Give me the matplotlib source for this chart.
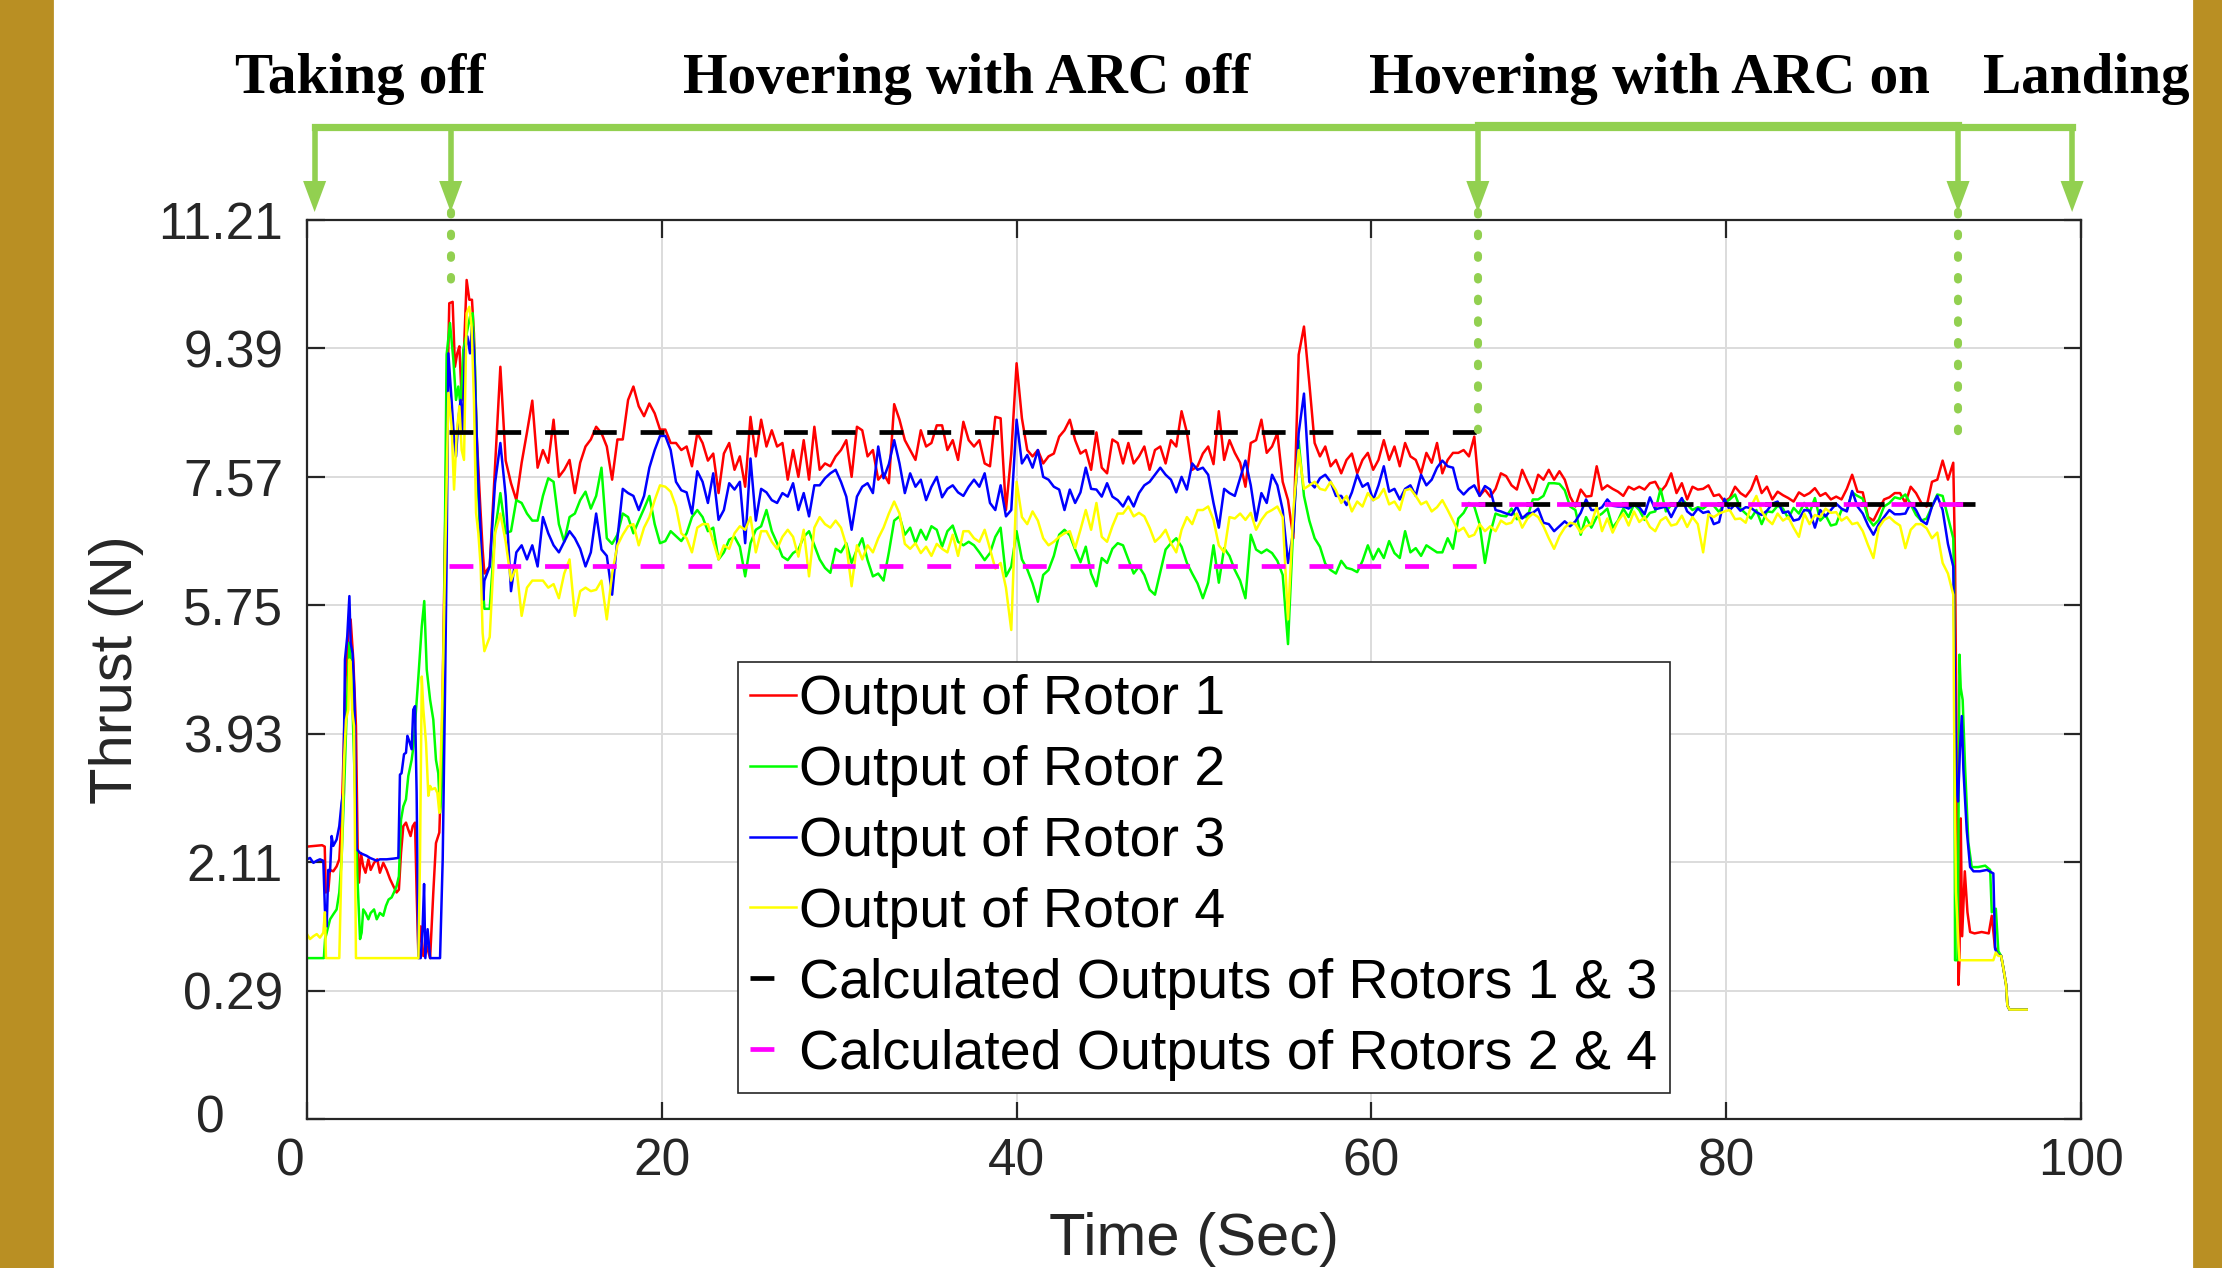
import numpy as np
import matplotlib.pyplot as plt
from matplotlib.patches import Rectangle, Polygon

plt.rcParams['font.family'] = ['Liberation Sans', 'DejaVu Sans']
plt.rcParams['lines.scale_dashes'] = False

# ---------------- data ----------------
# take-off part (irregular samples)
r1_take_t = [0, 0.85, 1.0, 1.06, 1.2, 1.3, 1.48, 1.67, 1.82, 1.95, 2.05, 2.18, 2.33, 2.46, 2.61, 2.76, 2.86, 2.93, 3.04, 3.17,
             3.3, 3.46, 3.59, 3.78, 3.96, 4.11, 4.3, 4.49, 4.68, 4.87, 5.05, 5.18, 5.3, 5.43, 5.58, 5.71, 5.84, 5.96, 6.09, 6.18,
             6.28, 6.41, 6.56, 6.75, 6.94, 7.12, 7.27, 7.46, 7.59, 7.69, 7.87, 8.02, 8.21, 8.34, 8.47, 8.59, 8.72, 8.85, 9.0, 9.15,
             9.3, 9.41, 9.56, 9.75, 9.9]
r1_take_v = [2.33, 2.35, 2.33, 1.68, 1.7, 2.0, 1.98, 2.05, 2.15, 2.71, 3.56, 4.74, 5.36, 5.55, 4.98, 4.04, 2.24, 1.82, 2.24, 2.05,
             1.96, 2.15, 2.0, 2.1, 2.15, 1.96, 2.1, 2.0, 1.87, 1.77, 1.68, 1.72, 2.24, 2.62, 2.67, 2.57, 2.48, 2.62, 2.67, 1.68,
             0.78, 1.2, 0.78, 0.92, 0.75, 1.68, 2.38, 2.53, 3.56, 5.26, 8.19, 10.03, 10.05, 9.13, 9.32, 9.42, 8.66, 9.37, 10.36, 10.08,
             10.08, 9.6, 8.19, 7.24, 6.54]

r2_take_t = [0, 0.95, 1.02, 1.11, 1.3, 1.48, 1.67, 1.82, 1.95, 2.09, 2.24, 2.39, 2.46, 2.57, 2.71, 2.84, 2.99, 3.08, 3.17, 3.3,
             3.46, 3.59, 3.78, 3.93, 4.11, 4.3, 4.45, 4.6, 4.77, 4.9, 5.05, 5.18, 5.3, 5.43, 5.58, 5.71, 5.9, 6.0, 6.28, 6.47,
             6.61, 6.75, 6.94, 7.12, 7.27, 7.4, 7.5, 7.6, 7.69, 7.8, 7.87, 8.06, 8.25, 8.4, 8.53, 8.66, 8.81, 9.0, 9.19, 9.34,
             9.47, 9.6, 9.75, 9.9]
r2_take_v = [0.75, 0.75, 1.02, 1.11, 1.3, 1.37, 1.44, 1.68, 2.15, 3.1, 4.27, 5.22, 4.98, 4.27, 3.1, 1.91, 1.02, 1.11, 1.44, 1.39,
             1.3, 1.39, 1.44, 1.3, 1.39, 1.35, 1.49, 1.58, 1.61, 1.68, 1.77, 1.91, 2.71, 2.9, 3.0, 3.33, 3.56, 3.75, 4.74, 5.45,
             5.81, 4.84, 4.41, 4.13, 3.56, 3.37, 2.81, 3.2, 4.5, 7.5, 9.3, 9.75, 9.23, 8.66, 8.85, 8.57, 9.37, 9.6, 9.84, 9.89,
             9.13, 7.72, 6.77, 6.07]

r3_take_t = [0, 0.17, 0.36, 0.55, 0.73, 0.92, 1.01, 1.11, 1.2, 1.3, 1.39, 1.48, 1.67, 1.82, 1.95, 2.05, 2.14, 2.27, 2.39, 2.46,
             2.57, 2.67, 2.8, 2.89, 2.99, 3.17, 3.36, 3.55, 3.74, 3.93, 4.11, 4.49, 4.87, 5.15, 5.24, 5.33, 5.47, 5.58, 5.66, 5.77,
             5.9, 5.99, 6.09, 6.18, 6.28, 6.41, 6.52, 6.6, 6.67, 6.8, 6.94, 7.5, 7.65, 7.78, 7.87, 7.97, 8.15, 8.29, 8.4, 8.53,
             8.66, 8.77, 8.91, 9.04, 9.19, 9.3, 9.41, 9.53, 9.66, 9.79, 9.94]
r3_take_v = [2.15, 2.17, 2.1, 2.13, 2.15, 2.13, 1.44, 1.2, 2.0, 1.98, 2.48, 2.34, 2.43, 2.62, 2.95, 3.1, 4.98, 5.31, 5.88, 5.22,
             5.07, 4.51, 2.29, 2.27, 2.24, 2.22, 2.2, 2.17, 2.15, 2.13, 2.15, 2.15, 2.16, 2.17, 3.35, 3.37, 3.64, 3.66, 3.9, 3.82,
             3.71, 4.27, 4.32, 3.1, 0.75, 0.75, 1.2, 1.8, 0.75, 1.16, 0.75, 0.75, 2.15, 4.51, 6.4, 9.32, 8.66, 8.09, 7.86, 8.38,
             8.66, 8.19, 9.37, 9.56, 9.32, 9.7, 9.37, 8.43, 7.48, 6.77, 5.83]

r4_take_t = [0, 0.17, 0.36, 0.55, 0.73, 0.92, 1.01, 1.07, 1.82, 1.95, 2.09, 2.2, 2.33, 2.39, 2.46, 2.54, 2.65, 2.76, 6.28, 6.37,
             6.47, 6.56, 6.71, 6.84, 6.94, 7.03, 7.22, 7.35, 7.46, 7.59, 7.68, 7.97, 8.15, 8.29, 8.44, 8.59, 8.72, 8.85, 9.0, 9.15,
             9.28, 9.41, 9.53, 9.66, 9.79, 9.9]
r4_take_v = [1.09, 1.02, 1.06, 1.09, 1.04, 1.11, 1.4, 0.75, 0.75, 2.15, 3.56, 4.13, 4.27, 4.98, 4.95, 4.27, 4.04, 0.75, 0.75, 2.15,
             4.74, 4.27, 3.8, 3.05, 3.19, 3.14, 3.16, 3.09, 2.81, 4.04, 4.98, 8.76, 8.28, 7.39, 8.19, 8.57, 7.95, 7.81, 9.89, 9.98,
             9.7, 8.66, 7.06, 6.77, 6.3, 5.36]

# hover part, sampled every 0.3 s; four stretches starting at these times
hover_start = [10.0, 22.3, 50.5, 66.1]
hover_dt = 0.3

r1_hover = [
    [6.2, 6.3, 7.72, 9.13, 7.8, 7.48, 7.24, 7.77, 8.2, 8.65, 7.7, 7.95, 7.77, 8.38, 7.57, 7.67, 7.81, 7.34, 7.77, 8.0,
     8.1, 8.28, 8.19, 8.0, 7.53, 8.1, 8.1, 8.66, 8.85, 8.57, 8.43, 8.61, 8.47, 8.24, 8.24, 8.05, 8.05, 7.95, 8.0, 7.72,
     8.19],
    [8.05, 7.8, 7.9, 7.34, 7.9, 8.05, 7.67, 7.86, 7.43, 8.42, 7.86, 8.38, 8.0, 8.23, 8.0, 8.05, 7.53, 7.95, 7.57, 8.09,
     7.53, 8.28, 7.67, 7.76, 7.72, 7.86, 7.95, 8.09, 7.57, 8.28, 8.23, 7.86, 7.95, 7.53, 7.62, 7.48, 8.6, 8.38, 8.09, 7.95,
     7.81, 8.23, 8.0, 8.05, 8.3, 8.3, 7.95, 8.09, 7.81, 8.35, 8.09, 8.0, 8.09, 7.76, 7.72, 8.42, 8.4, 7.1, 7.9, 9.18,
     8.4, 7.95, 7.86, 7.95, 7.76, 7.86, 7.9, 8.14, 8.23, 8.38, 8.09, 7.9, 7.95, 7.67, 8.2, 7.7, 7.62, 8.1, 8.05, 7.76,
     8.05, 7.76, 7.86, 8.0, 7.67, 7.95, 8.0, 7.76, 8.09, 8.0, 8.5, 8.2, 7.67, 7.72],
    [7.9, 8.0, 7.75, 8.5, 7.81, 8.09, 7.91, 7.77, 7.43, 8.05, 8.09, 8.38, 7.91, 8.0, 8.19, 7.5, 7.24, 6.7, 9.3, 9.7,
     8.9, 8.05, 7.86, 8.0, 7.72, 7.81, 7.62, 7.81, 7.9, 7.62, 7.81, 7.91, 7.67, 7.81, 8.09, 7.81, 8.0, 7.72, 8.05, 7.86,
     7.81, 7.62, 7.91, 7.77, 8.05, 7.62, 7.81, 7.91, 7.91, 7.95, 7.86, 8.14],
    [7.3, 7.39, 7.29, 7.4, 7.62, 7.58, 7.45, 7.39, 7.67, 7.5, 7.34, 7.6, 7.53, 7.67, 7.53, 7.65, 7.53, 7.29, 7.15, 7.39,
     7.29, 7.3, 7.72, 7.39, 7.45, 7.4, 7.36, 7.3, 7.43, 7.39, 7.43, 7.39, 7.48, 7.5, 7.36, 7.45, 7.62, 7.34, 7.48, 7.25,
     7.43, 7.39, 7.4, 7.45, 7.3, 7.32, 7.22, 7.27, 7.43, 7.34, 7.29, 7.39, 7.58, 7.34, 7.43, 7.25, 7.36, 7.31, 7.27, 7.22,
     7.35, 7.3, 7.34, 7.41, 7.3, 7.34, 7.25, 7.29, 7.25, 7.4, 7.6, 7.36, 7.35, 7.0, 6.95, 7.1, 7.25, 7.28, 7.34, 7.34,
     7.2, 7.43, 7.34, 7.2, 7.15, 7.5, 7.53, 7.8, 7.53, 7.77],
]
r2_hover = [
    [5.7, 5.7, 6.8, 7.34, 6.77, 6.8, 7.24, 7.2, 7.05, 6.95, 6.95, 7.3, 7.55, 7.5, 6.9, 6.65, 7.0, 7.05, 7.24, 7.36,
     7.12, 7.3, 7.7, 6.7, 6.62, 6.75, 7.05, 7.0, 6.77, 6.95, 7.12, 7.3, 6.9, 6.63, 6.66, 6.8, 6.73, 6.66, 6.77, 7.0,
     7.1],
    [7.0, 6.8, 6.85, 6.4, 6.5, 6.68, 6.72, 6.58, 6.16, 6.63, 6.82, 6.87, 7.1, 6.8, 6.63, 6.44, 6.39, 6.49, 6.54, 6.72,
     6.8, 6.6, 6.4, 6.28, 6.21, 6.55, 6.5, 6.63, 6.35, 6.54, 6.7, 6.39, 6.16, 6.2, 6.1, 6.5, 6.95, 7.01, 6.75, 6.85,
     6.63, 6.82, 6.68, 6.87, 6.82, 6.58, 6.8, 6.88, 6.65, 6.6, 6.65, 6.6, 6.5, 6.39, 6.49, 6.72, 6.85, 6.16, 6.3, 6.8,
     6.4, 6.26, 6.06, 5.8, 6.18, 6.25, 6.45, 6.75, 6.82, 6.74, 6.54, 6.36, 6.58, 6.2, 6.02, 6.42, 6.35, 6.55, 6.63, 6.6,
     6.4, 6.2, 6.3, 6.18, 5.97, 5.9, 6.22, 6.54, 6.63, 6.7, 6.58, 6.35, 6.2, 6.06],
    [5.85, 6.07, 6.6, 6.07, 6.56, 6.45, 6.25, 6.1, 5.85, 6.75, 6.54, 6.49, 6.54, 6.49, 6.38, 6.18, 5.2, 6.9, 8.08, 7.3,
     6.95, 6.7, 6.58, 6.34, 6.25, 6.2, 6.38, 6.28, 6.26, 6.22, 6.38, 6.6, 6.4, 6.55, 6.42, 6.66, 6.49, 6.42, 6.8, 6.5,
     6.56, 6.45, 6.6, 6.55, 6.5, 6.5, 6.7, 6.55, 6.98, 7.06, 7.2, 7.15],
    [6.9, 6.35, 6.77, 7.05, 7.02, 7.01, 7.12, 6.97, 7.0, 7.0, 7.25, 7.25, 7.3, 7.48, 7.48, 7.47, 7.38, 7.15, 7.1, 6.75,
     7.0, 6.85, 7.0, 7.05, 7.12, 6.85, 6.95, 7.12, 7.0, 7.18, 7.1, 6.96, 7.06, 7.08, 7.4, 7.08, 7.17, 7.15, 7.25, 7.18,
     7.1, 7.14, 7.12, 7.18, 7.16, 7.07, 7.2, 7.25, 7.32, 7.12, 7.05, 6.98, 7.1, 6.9, 7.08, 7.07, 7.16, 7.12, 6.98, 7.13,
     7.05, 7.2, 7.06, 7.27, 6.95, 7.03, 6.88, 6.9, 7.1, 7.1, 7.35, 7.3, 7.26, 6.98, 6.88, 6.96, 7.15, 7.2, 7.28, 7.26,
     7.32, 7.18, 7.03, 6.95, 6.98, 7.15, 7.32, 7.3, 7.0, 6.7],
]
r3_hover = [
    [6.1, 6.3, 7.48, 8.05, 7.3, 5.95, 6.5, 6.6, 6.4, 6.6, 6.3, 7.0, 6.77, 6.6, 6.5, 6.65, 6.8, 6.7, 6.55, 6.3,
     6.5, 7.05, 6.54, 6.45, 5.9, 6.7, 7.4, 7.34, 7.3, 7.1, 7.3, 7.7, 7.95, 8.15, 8.15, 7.95, 7.5, 7.38, 7.35, 7.05,
     7.65],
    [7.5, 7.2, 7.62, 6.96, 7.1, 7.48, 7.39, 7.5, 6.63, 7.83, 6.95, 7.4, 7.35, 7.24, 7.2, 7.34, 7.29, 7.48, 7.1, 7.34,
     7.01, 7.45, 7.45, 7.55, 7.62, 7.67, 7.5, 7.29, 6.82, 7.29, 7.43, 7.48, 7.34, 8.0, 7.55, 7.75, 8.09, 7.76, 7.34, 7.62,
     7.43, 7.53, 7.24, 7.43, 7.57, 7.28, 7.4, 7.45, 7.35, 7.3, 7.43, 7.53, 7.43, 7.62, 7.2, 7.1, 7.45, 7.01, 7.1, 8.38,
     7.76, 7.88, 7.7, 7.95, 7.57, 7.53, 7.43, 7.39, 7.1, 7.39, 7.2, 7.35, 7.7, 7.4, 7.39, 7.29, 7.48, 7.29, 7.24, 7.15,
     7.29, 7.15, 7.34, 7.45, 7.5, 7.6, 7.7, 7.6, 7.53, 7.35, 7.57, 7.39, 7.76, 7.67],
    [7.7, 7.6, 7.2, 6.85, 7.4, 7.34, 7.3, 7.55, 7.8, 7.45, 6.95, 7.34, 7.2, 7.6, 7.45, 7.1, 6.35, 6.8, 8.19, 8.75,
     7.5, 7.42, 7.55, 7.6, 7.5, 7.3, 7.3, 7.17, 7.35, 7.6, 7.43, 7.48, 7.24, 7.45, 7.72, 7.36, 7.4, 7.25, 7.4, 7.45,
     7.3, 7.6, 7.45, 7.53, 7.7, 7.8, 7.72, 7.7, 7.4, 7.32, 7.4, 7.45],
    [7.3, 7.44, 7.39, 7.1, 7.08, 7.05, 7.03, 7.15, 6.98, 7.05, 7.06, 7.12, 6.92, 6.9, 6.8, 6.87, 6.94, 6.87, 6.94, 7.06,
     7.25, 7.1, 7.1, 7.14, 7.25, 7.16, 7.15, 7.15, 7.12, 7.18, 7.14, 7.04, 7.28, 7.11, 7.13, 7.15, 7.0, 7.15, 7.27, 7.08,
     7.02, 7.12, 7.06, 7.08, 6.9, 6.93, 7.26, 7.1, 7.18, 7.09, 7.14, 7.13, 7.07, 7.03, 7.09, 7.19, 7.22, 7.06, 7.08, 6.95,
     6.97, 7.1, 7.09, 6.85, 7.1, 7.01, 7.1, 7.19, 7.12, 7.08, 7.37, 7.15, 7.05, 6.88, 6.75, 6.9, 7.0, 7.1, 7.04, 7.04,
     7.05, 7.2, 7.1, 6.95, 6.9, 7.15, 7.3, 7.1, 6.62, 6.3],
]
r4_hover = [
    [5.1, 5.3, 6.77, 7.05, 6.65, 6.1, 6.3, 5.6, 6.0, 6.1, 6.1, 6.1, 6.0, 6.05, 5.85, 6.2, 6.4, 5.6, 5.95, 6.0,
     5.95, 5.97, 6.1, 5.55, 6.2, 6.6, 6.75, 6.87, 6.9, 6.6, 6.85, 7.0, 7.24, 7.45, 7.43, 7.36, 7.15, 6.77, 6.7, 6.5,
     6.85],
    [6.9, 6.9, 6.65, 6.4, 6.6, 6.55, 6.77, 6.87, 6.82, 7.0, 6.5, 6.8, 6.8, 6.65, 6.55, 6.72, 6.82, 6.72, 6.44, 6.82,
     6.16, 6.85, 7.0, 6.9, 6.85, 6.95, 6.85, 6.6, 6.02, 6.6, 6.4, 6.6, 6.5, 6.7, 6.85, 7.05, 7.22, 7.05, 6.62, 6.55,
     6.63, 6.49, 6.58, 6.45, 6.62, 6.55, 6.5, 6.75, 6.45, 6.8, 6.8, 6.7, 6.65, 6.82, 6.55, 6.27, 6.35, 6.0, 5.4, 7.5,
     7.0, 6.9, 7.08, 6.95, 6.7, 6.6, 6.65, 6.72, 6.77, 6.8, 6.56, 6.82, 7.1, 6.82, 7.2, 6.72, 6.65, 6.87, 7.05, 7.05,
     7.15, 7.01, 7.06, 7.01, 6.85, 6.65, 6.72, 6.82, 6.63, 6.5, 6.82, 7.0, 6.9, 7.1],
    [7.1, 7.15, 6.96, 6.6, 6.5, 7.0, 6.98, 7.05, 6.96, 7.06, 6.82, 6.96, 7.06, 7.1, 7.15, 7.0, 5.55, 7.1, 7.95, 7.4,
     7.45, 7.5, 7.4, 7.38, 7.5, 7.38, 7.2, 7.3, 7.08, 7.22, 7.15, 7.34, 7.24, 7.28, 7.4, 7.18, 7.22, 7.1, 7.38, 7.4,
     7.3, 7.18, 7.22, 7.08, 7.14, 7.24, 7.1, 6.95, 6.8, 6.85, 6.72, 6.75],
    [6.9, 6.8, 6.87, 6.8, 6.95, 6.9, 6.92, 7.05, 6.85, 6.98, 7.05, 7.0, 6.87, 6.7, 6.55, 6.73, 6.85, 6.92, 6.9, 6.78,
     6.87, 6.9, 7.15, 6.8, 6.98, 6.78, 6.94, 7.05, 6.88, 7.08, 6.93, 7.0, 6.86, 6.8, 6.95, 7.0, 6.88, 6.9, 7.02, 6.86,
     7.0, 6.9, 6.5, 7.04, 7.0, 7.05, 7.08, 7.1, 6.97, 6.98, 6.92, 7.15, 7.3, 7.08, 6.97, 6.9, 7.05, 6.95, 7.0, 6.85,
     6.72, 7.05, 6.9, 7.03, 7.0, 7.12, 7.06, 7.07, 6.95, 7.0, 6.9, 6.92, 6.8, 6.6, 6.42, 6.85, 6.96, 7.0, 6.93, 6.88,
     6.56, 6.82, 6.9, 6.9, 6.84, 6.7, 6.78, 6.35, 6.2, 5.9],
]

# landing part
r1_land_t = [92.9, 93.0, 93.09, 93.15, 93.22, 93.3, 93.45, 93.6, 93.75, 94.0, 94.4, 94.8, 94.97, 95.15, 95.35]
r1_land_v = [6.4, 3.4, 0.37, 0.71, 2.73, 1.06, 1.98, 1.4, 1.12, 1.1, 1.12, 1.1, 1.35, 0.9, 0.82]
r2_land_t = [92.85, 92.9, 93.05, 93.1, 93.15, 93.22, 93.33, 93.47, 93.65, 93.84, 94.2, 94.6, 94.88, 94.97, 95.2, 95.34]
r2_land_v = [6.0, 0.72, 0.72, 3.0, 5.05, 4.58, 4.41, 3.43, 2.39, 2.04, 2.04, 2.06, 2.0, 1.4, 1.45, 0.85]
r3_land_t = [92.9, 92.98, 93.07, 93.18, 93.28, 93.37, 93.56, 93.75, 93.94, 94.3, 94.7, 95.06, 95.16, 95.3]
r3_land_v = [4.58, 3.14, 2.97, 3.72, 4.18, 3.43, 2.56, 2.04, 1.98, 1.98, 2.0, 1.95, 0.88, 0.8]
r4_land_t = [92.85, 92.95, 93.1, 93.15, 94.0, 95.06, 95.2, 95.35]
r4_land_v = [4.0, 1.69, 0.9, 0.72, 0.72, 0.72, 0.83, 0.78]
tail_t = [95.5, 95.63, 95.78, 95.85, 95.97, 96.94]
tail_v = [0.78, 0.6, 0.37, 0.08, 0.02, 0.02]

# calculated outputs (two flight phases)
calc13_t = [[8.0, 66.0], [66.0, 94.0]]
calc13_v = [[8.21, 8.21], [7.19, 7.19]]
calc24_t = [[8.0, 66.0], [65.04, 94.0]]
calc24_v = [[6.30, 6.30], [7.19, 7.19]]

ytick_vals = [-1.53, 0.29, 2.11, 3.93, 5.75, 7.57, 9.39, 11.21]
ytick_labels = ['', '0.29', '2.11', '3.93', '5.75', '7.57', '9.39', '11.21']
xtick_vals = [0, 20, 40, 60, 80, 100]
xtick_labels = ['', '20', '40', '60', '80', '100']

phases = ['Taking off', 'Hovering with ARC off', 'Hovering with ARC on', 'Landing']
phase_arrows = [0.43, 8.1, 66.0, 93.07, 99.5]


def series(take_t, take_v, hover, land_t, land_v):
    t = list(take_t)
    v = list(take_v)
    for start, seg in zip(hover_start, hover):
        t += list(start + hover_dt * np.arange(len(seg)))
        v += list(seg)
    t += land_t + tail_t
    v += land_v + tail_v
    return np.array(t), np.array(v)


# ---------------- figure ----------------
fig = plt.figure(figsize=(11.11, 6.34), dpi=200)
ax = fig.add_axes([0.13816, 0.11751, 0.79838, 0.70899])

# golden side strips
gold = '#B98F23'
fig.patches.append(Rectangle((0, 0), 52 / 2222, 1, transform=fig.transFigure, color=gold, zorder=0))
fig.patches.append(Rectangle((2194 / 2222, 0), 28 / 2222, 1, transform=fig.transFigure, color=gold, zorder=0))

lw = 0.9
t1, v1 = series(r1_take_t, r1_take_v, r1_hover, r1_land_t, r1_land_v)
t2, v2 = series(r2_take_t, r2_take_v, r2_hover, r2_land_t, r2_land_v)
t3, v3 = series(r3_take_t, r3_take_v, r3_hover, r3_land_t, r3_land_v)
t4, v4 = series(r4_take_t, r4_take_v, r4_hover, r4_land_t, r4_land_v)
ax.plot(t1, v1, color='#FF0000', lw=lw, label='Output of Rotor 1')
ax.plot(t2, v2, color='#00FF00', lw=lw, label='Output of Rotor 2')
ax.plot(t3, v3, color='#0000FF', lw=lw, label='Output of Rotor 3')
ax.plot(t4, v4, color='#FFFF00', lw=lw, label='Output of Rotor 4')

dash = (8.6, 8.6)
for i in range(2):
    ax.plot(calc13_t[i], calc13_v[i], color='black', lw=1.7, dashes=dash,
            label='Calculated Outputs of Rotors 1 & 3' if i == 0 else None)
for i in range(2):
    ax.plot(calc24_t[i], calc24_v[i], color='#FF00FF', lw=1.7, dashes=dash,
            label='Calculated Outputs of Rotors 2 & 4' if i == 0 else None)

# axes styling (MATLAB look)
ax.set_xlim(0, 100)
ax.set_ylim(-1.53, 11.21)
ax.set_xticks(xtick_vals)
ax.set_xticklabels(xtick_labels)
ax.set_yticks(ytick_vals)
ax.set_yticklabels(ytick_labels)
ax.grid(True, color='#dcdcdc', linewidth=0.7)
ax.set_axisbelow(True)
for s in ax.spines.values():
    s.set_color('#262626')
    s.set_linewidth(0.8)
ax.tick_params(direction='in', length=6.3, width=0.8, top=True, right=True,
               labelsize=18.5, colors='#262626')
ax.tick_params(axis='y', pad=8.6)
ax.tick_params(axis='x', pad=6.8)
# the two zero labels sit a little off their ticks in the original
ax.text(-0.0547, -1.53, '0', transform=ax.get_yaxis_transform(), ha='center', va='center',
        fontsize=18.5, color='#262626')
ax.text(-0.93, -0.021, '0', transform=ax.get_xaxis_transform(), ha='center', va='top',
        fontsize=18.5, color='#262626')

ax.set_xlabel('Time (Sec)', fontsize=21.5, color='#262626')
ax.xaxis.set_label_coords(0.5, -0.103)
ax.set_ylabel('Thrust (N)', fontsize=21.5, color='#262626')
ax.yaxis.set_label_coords(-0.092, 0.5)

leg = ax.legend(loc='upper left', bbox_to_anchor=(0.33213, 0.47792), bbox_transform=fig.transFigure,
                fontsize=20, handlelength=0.83, handletextpad=0.05, labelspacing=0.34,
                borderpad=0.22, borderaxespad=0, fancybox=False, framealpha=1, edgecolor='#262626')
leg.get_frame().set_linewidth(0.6)

# phase brackets and arrows above the plot
green = '#92D050'
tr = ax.get_xaxis_transform()
bar_y, head_top, tip = 1.1031, 1.0434, 1.0089
ax.plot([phase_arrows[0], phase_arrows[-1]], [bar_y, bar_y], color=green, lw=2.6, transform=tr,
        clip_on=False, solid_capstyle='projecting')
ax.plot([phase_arrows[2], phase_arrows[3]], [bar_y + 0.003, bar_y + 0.003], color=green, lw=2.6,
        transform=tr, clip_on=False)
for x in phase_arrows:
    ax.plot([x, x], [bar_y, head_top], color=green, lw=2.0, transform=tr, clip_on=False)
    ax.add_patch(Polygon([(x - 0.65, head_top), (x + 0.65, head_top), (x, tip)], closed=True,
                         facecolor=green, edgecolor='none', transform=tr, clip_on=False))

# dotted guide lines from the arrows down to the data
for x, ybot in [(8.1, 10.25), (66.0, 8.24), (93.07, 8.05)]:
    ax.plot([x, x], [11.32, ybot], color=green, lw=2.9, dashes=(0.9, 6.9),
            dash_capstyle='round', clip_on=False, zorder=5)

font_t = dict(family=['Liberation Serif', 'DejaVu Serif'], weight='bold', size=20.6, va='baseline')
fig.text(360 / 2222, 0.9263, phases[0], ha='center', **font_t)
fig.text(967 / 2222, 0.9263, phases[1], ha='center', **font_t)
fig.text(1649 / 2222, 0.9263, phases[2], ha='center', **font_t)
fig.text(2189 / 2222, 0.9263, phases[3], ha='right', **font_t)

fig.savefig('out.png', dpi=200)
